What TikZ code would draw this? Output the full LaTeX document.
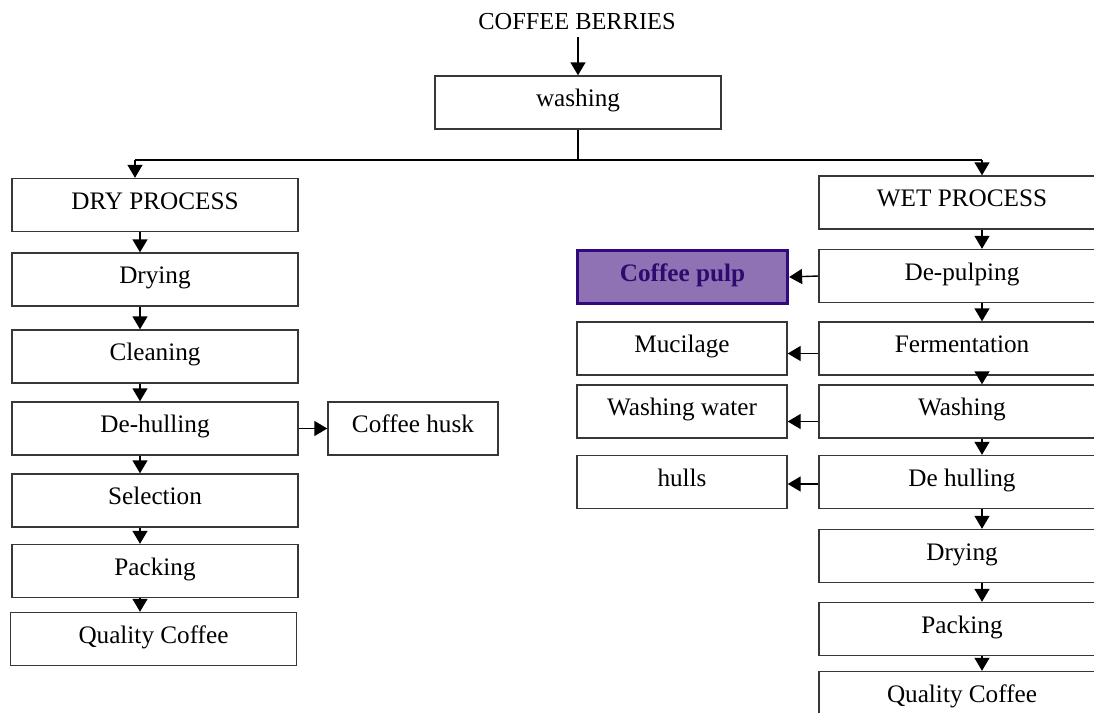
\documentclass[tikz,border=0pt]{standalone}
\usepackage{fontspec}
\setmainfont{Liberation Serif}
\usetikzlibrary{arrows.meta,positioning,calc}
\usepackage{xcolor}
\definecolor{pulpfill}{RGB}{142,114,180}
\definecolor{pulpdraw}{RGB}{50,8,125}
\definecolor{pulptext}{RGB}{46,10,110}
\definecolor{boxline}{RGB}{55,55,55}

\begin{document}
\begin{tikzpicture}[x=0.5pt, y=-0.5pt,
    stepbox/.style={draw=boxline, line width=0.7pt, minimum width=143pt, minimum height=26.5pt, inner sep=0pt, text height=9pt, text depth=5pt, font=\fontsize{12.6}{15}\selectfont},
    sidebox/.style={stepbox, minimum width=105pt},
    arr/.style={-{Triangle[length=6.5pt,width=7.5pt]}, line width=0.7pt},
    ln/.style={line width=0.7pt}]
    \useasboundingbox (0,0) rectangle (1094,713);

    \node[font=\fontsize{12.2}{15}\selectfont] (berries) at (577,22) {COFFEE BERRIES};
    \node[stepbox] (wash) at (578,102.5) {washing};

    % dry process
    \node[stepbox] (dry)     at (155,205)   {DRY PROCESS};
    \node[stepbox] (ddrying) at (155,279.5) {Drying};
    \node[stepbox] (clean)   at (155,356.5) {Cleaning};
    \node[stepbox] (dhull)   at (155,428.5) {De-hulling};
    \node[stepbox] (select)  at (155,500.5) {Selection};
    \node[stepbox] (dpack)   at (155,571)   {Packing};
    \node[stepbox] (dqual)   at (153.5,639) {Quality Coffee};
    \node[stepbox, minimum width=85pt] (husk) at (413,428.5) {Coffee husk};

    % wet process
    \node[stepbox] (wet)     at (962,202.5) {WET PROCESS};
    \node[stepbox] (pulping) at (962,276)   {De-pulping};
    \node[stepbox] (ferment) at (962,348.5) {Fermentation};
    \node[stepbox] (wwash)   at (962,411.5) {Washing};
    \node[stepbox] (whull)   at (962,482)   {De hulling};
    \node[stepbox] (wdrying) at (962,556)   {Drying};
    \node[stepbox] (wpack)   at (962,629)   {Packing};
    \node[stepbox] (wqual)   at (962,698)   {Quality Coffee};

    \node[sidebox, fill=pulpfill, draw=pulpdraw, line width=1.6pt, text=pulptext, font=\fontsize{12.6}{15}\selectfont\bfseries] (pulp) at (682.5,277) {Coffee pulp};
    \node[sidebox] (mucil)  at (682,348.5) {Mucilage};
    \node[sidebox] (wwater) at (682,411.5) {Washing water};
    \node[sidebox] (hulls)  at (682,482)   {hulls};

    % split
    \coordinate (dl) at (135,160);
    \coordinate (wl) at (982,160);
    \coordinate (split) at (wash.south |- dl);
    \coordinate (dx) at (140,0);
    \coordinate (wx) at (982,0);
    \draw[arr] (wash.north |- berries.south) -- (wash.north);
    \draw[ln] (wash.south) -- (split);
    \draw[ln] (dl) -- (wl);
    \draw[arr] (dl) -- (dl |- dry.north);
    \draw[arr] (wl) -- (wl |- wet.north);

    % chains
    \foreach \a/\b in {dry/ddrying, ddrying/clean, clean/dhull, dhull/select, select/dpack, dpack/dqual}
        \draw[arr] (\a.south -| dx) -- (\b.north -| dx);
    \foreach \a/\b in {wet/pulping, pulping/ferment, ferment/wwash, wwash/whull, whull/wdrying, wdrying/wpack, wpack/wqual}
        \draw[arr] (\a.south -| wx) -- (\b.north -| wx);

    % by-products
    \draw[arr] (dhull.east) -- (husk.west);
    \draw[arr] (pulping.west) -- (pulp.east);
    \draw[arr] ([yshift=-2.5pt]ferment.west) -- ([yshift=-2.5pt]mucil.east);
    \draw[arr] ([yshift=-5pt]wwash.west) -- ([yshift=-5pt]wwater.east);
    \draw[arr] ([yshift=-1pt]whull.west) -- ([yshift=-1pt]hulls.east);
\end{tikzpicture}
\end{document}
